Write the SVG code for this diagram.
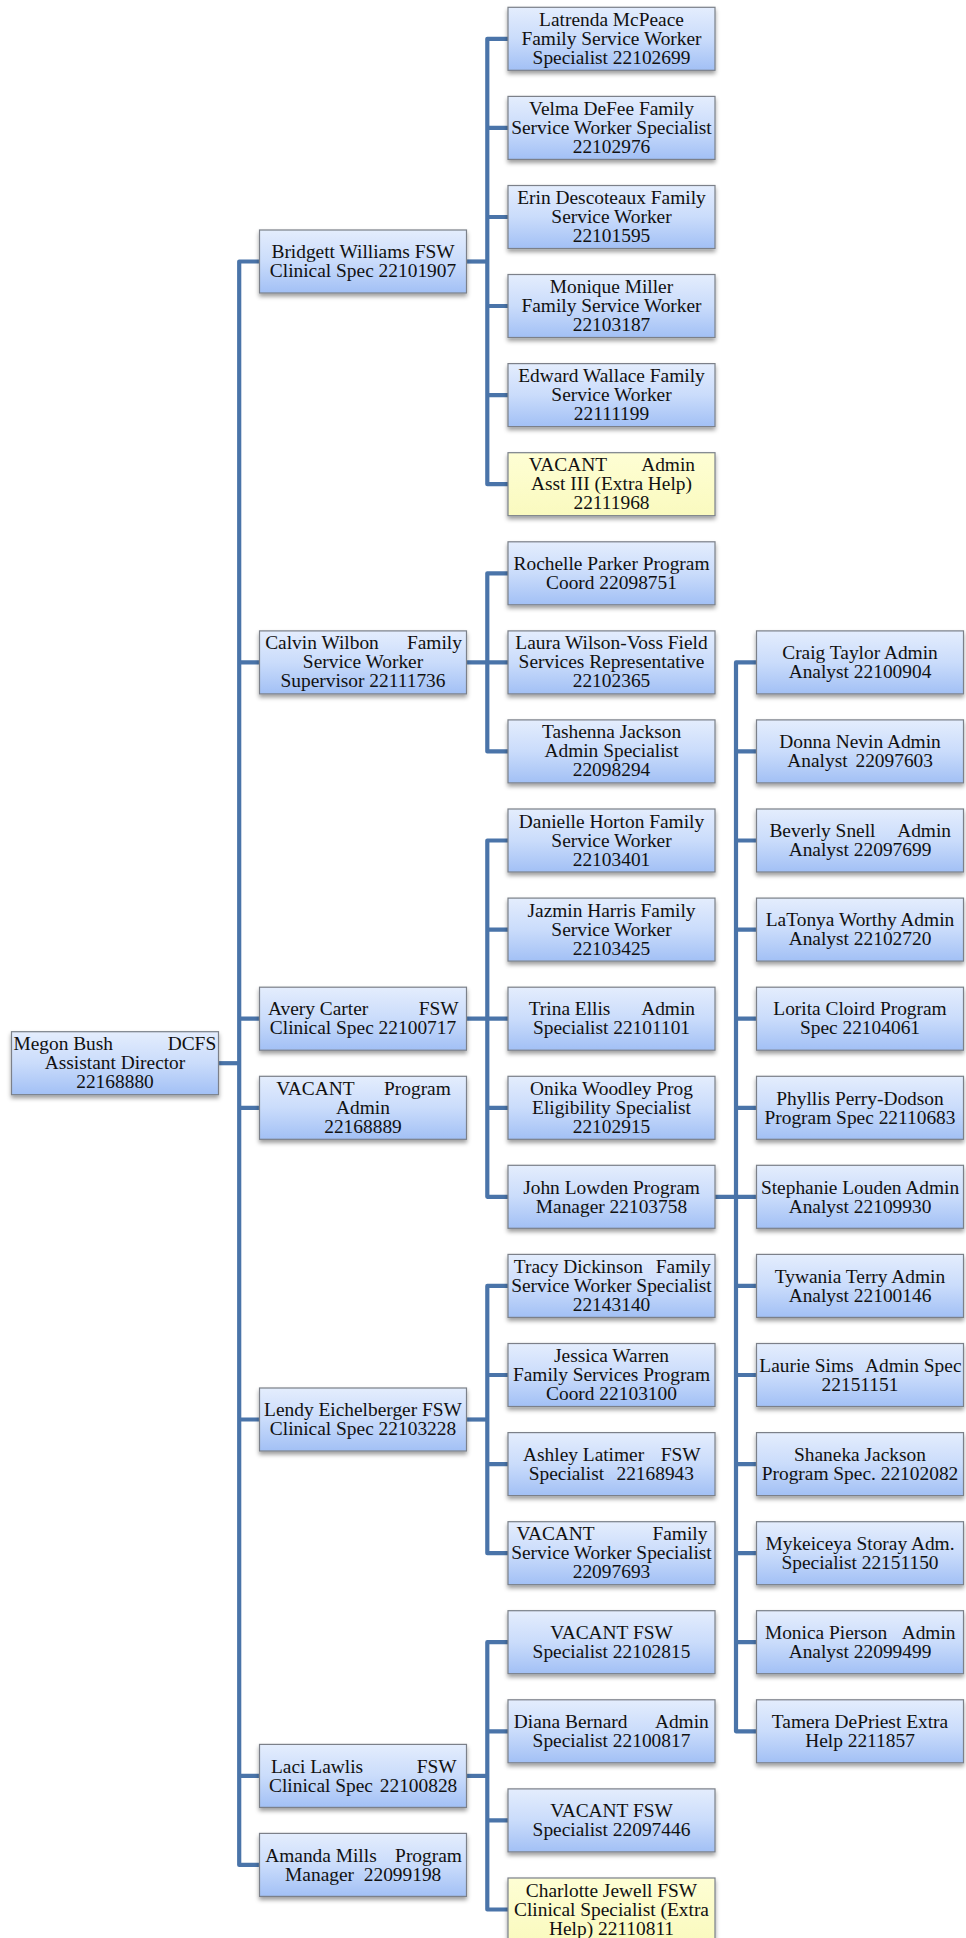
<svg xmlns="http://www.w3.org/2000/svg" width="966" height="1938" viewBox="0 0 966 1938">
<defs>
<linearGradient id="gb" x1="0" y1="0" x2="0" y2="1"><stop offset="0" stop-color="#e4edfd"/><stop offset="0.5" stop-color="#cadcfb"/><stop offset="1" stop-color="#a2c0f5"/></linearGradient>
<linearGradient id="gy" x1="0" y1="0" x2="0" y2="1"><stop offset="0" stop-color="#fefed4"/><stop offset="1" stop-color="#fafabf"/></linearGradient>
<filter id="sh" x="-10%" y="-10%" width="120%" height="145%"><feDropShadow dx="0" dy="3" stdDeviation="2" flood-color="#000" flood-opacity="0.38"/></filter>
</defs>
<style>
.n rect{fill:url(#gb);stroke:#7b8089;stroke-width:1.2;filter:url(#sh)}
.n.y rect{fill:url(#gy)}
text{font-family:"Liberation Serif","Times New Roman",serif;font-size:19.4px;fill:#111;text-anchor:middle}
tspan.l{text-anchor:start}
tspan.r{text-anchor:end}
#connectors path{fill:none;stroke:#4a74a9;stroke-width:4.2;stroke-linejoin:round;stroke-linecap:butt}
</style>
<rect width="966" height="1938" fill="#fff"/>
<g id="connectors">
<path d="M218.5,1063.2H239.2"/>
<path d="M259.5,261.5H239.2V1864.9H259.5"/>
<path d="M239.2,662.4H259.5M239.2,1018.7H259.5M239.2,1107.8H259.5M239.2,1419.5H259.5M239.2,1775.9H259.5"/>
<path d="M466.5,261.5H487.3"/>
<path d="M508,38.8H487.3V484.2H508"/>
<path d="M487.3,127.9H508M487.3,217H508M487.3,306H508M487.3,395.1H508"/>
<path d="M466.5,662.4H508"/>
<path d="M508,573.3H487.3V751.4H508"/>
<path d="M466.5,1018.7H508"/>
<path d="M508,840.5H487.3V1196.8H508"/>
<path d="M487.3,929.6H508M487.3,1107.8H508"/>
<path d="M466.5,1419.5H487.3"/>
<path d="M508,1285.9H487.3V1553.2H508"/>
<path d="M487.3,1375H508M487.3,1464.1H508"/>
<path d="M466.5,1775.9H487.3"/>
<path d="M508,1642.2H487.3V1909.5H508"/>
<path d="M487.3,1731.3H508M487.3,1820.4H508"/>
<path d="M715,1196.8H756.5"/>
<path d="M756.5,662.4H736V1731.3H756.5"/>
<path d="M736,751.4H756.5M736,840.5H756.5M736,929.6H756.5M736,1018.7H756.5M736,1107.8H756.5M736,1285.9H756.5M736,1375H756.5M736,1464.1H756.5M736,1553.2H756.5M736,1642.2H756.5"/>
</g>

<g id="megon-bush" class="n" transform="translate(11.5,1031.7)"><rect width="207" height="63"/><text><tspan class="l" x="1.9" y="18.5">Megon Bush</tspan><tspan class="r" x="204.7" y="18.5">DCFS</tspan><tspan x="103.5" y="37.5">Assistant Director</tspan><tspan x="103.5" y="56.5">22168880</tspan></text></g>

<g id="bridgett-williams" class="n" transform="translate(259.5,230)"><rect width="207" height="63"/><text><tspan x="103.5" y="28.3">Bridgett Williams FSW</tspan><tspan x="103.5" y="47.3">Clinical Spec 22101907</tspan></text></g>
<g id="calvin-wilbon" class="n" transform="translate(259.5,630.9)"><rect width="207" height="63"/><text><tspan class="l" x="5.7" y="18.5">Calvin Wilbon</tspan><tspan class="r" x="202.4" y="18.5">Family</tspan><tspan x="103.5" y="37.5">Service Worker</tspan><tspan x="103.5" y="56.5">Supervisor 22111736</tspan></text></g>
<g id="avery-carter" class="n" transform="translate(259.5,987.2)"><rect width="207" height="63"/><text><tspan class="l" x="8.4" y="28.3">Avery Carter</tspan><tspan class="r" x="199" y="28.3">FSW</tspan><tspan x="103.5" y="47.3">Clinical Spec 22100717</tspan></text></g>
<g id="vacant-program-admin" class="n" transform="translate(259.5,1076.3)"><rect width="207" height="63"/><text><tspan class="l" x="16.8" y="18.5">VACANT</tspan><tspan class="r" x="191.3" y="18.5">Program</tspan><tspan x="103.5" y="37.5">Admin</tspan><tspan x="103.5" y="56.5">22168889</tspan></text></g>
<g id="lendy-eichelberger" class="n" transform="translate(259.5,1388)"><rect width="207" height="63"/><text><tspan x="103.5" y="28.3">Lendy Eichelberger FSW</tspan><tspan x="103.5" y="47.3">Clinical Spec 22103228</tspan></text></g>
<g id="laci-lawlis" class="n" transform="translate(259.5,1744.4)"><rect width="207" height="63"/><text><tspan class="l" x="11.5" y="28.3">Laci Lawlis</tspan><tspan class="r" x="197.1" y="28.3">FSW</tspan><tspan class="l" x="9.5" y="47.3">Clinical Spec</tspan><tspan class="r" x="197.8" y="47.3">22100828</tspan></text></g>
<g id="amanda-mills" class="n" transform="translate(259.5,1833.4)"><rect width="207" height="63"/><text><tspan class="l" x="5.7" y="28.3">Amanda Mills</tspan><tspan class="r" x="202.4" y="28.3">Program</tspan><tspan class="l" x="25.6" y="47.3">Manager</tspan><tspan class="r" x="181.8" y="47.3">22099198</tspan></text></g>

<g id="latrenda-mcpeace" class="n" transform="translate(508,7.3)"><rect width="207" height="63"/><text><tspan x="103.5" y="18.5">Latrenda McPeace</tspan><tspan x="103.5" y="37.5">Family Service Worker</tspan><tspan x="103.5" y="56.5">Specialist 22102699</tspan></text></g>
<g id="velma-defee" class="n" transform="translate(508,96.4)"><rect width="207" height="63"/><text><tspan x="103.5" y="18.5">Velma DeFee Family</tspan><tspan x="103.5" y="37.5">Service Worker Specialist</tspan><tspan x="103.5" y="56.5">22102976</tspan></text></g>
<g id="erin-descoteaux" class="n" transform="translate(508,185.5)"><rect width="207" height="63"/><text><tspan x="103.5" y="18.5">Erin Descoteaux Family</tspan><tspan x="103.5" y="37.5">Service Worker</tspan><tspan x="103.5" y="56.5">22101595</tspan></text></g>
<g id="monique-miller" class="n" transform="translate(508,274.5)"><rect width="207" height="63"/><text><tspan x="103.5" y="18.5">Monique Miller</tspan><tspan x="103.5" y="37.5">Family Service Worker</tspan><tspan x="103.5" y="56.5">22103187</tspan></text></g>
<g id="edward-wallace" class="n" transform="translate(508,363.6)"><rect width="207" height="63"/><text><tspan x="103.5" y="18.5">Edward Wallace Family</tspan><tspan x="103.5" y="37.5">Service Worker</tspan><tspan x="103.5" y="56.5">22111199</tspan></text></g>
<g id="vacant-admin-asst" class="n y" transform="translate(508,452.7)"><rect width="207" height="63"/><text><tspan class="l" x="20.7" y="18.5">VACANT</tspan><tspan class="r" x="187" y="18.5">Admin</tspan><tspan x="103.5" y="37.5">Asst III (Extra Help)</tspan><tspan x="103.5" y="56.5">22111968</tspan></text></g>
<g id="rochelle-parker" class="n" transform="translate(508,541.8)"><rect width="207" height="63"/><text><tspan x="103.5" y="28.3">Rochelle Parker Program</tspan><tspan x="103.5" y="47.3">Coord 22098751</tspan></text></g>
<g id="laura-wilson-voss" class="n" transform="translate(508,630.9)"><rect width="207" height="63"/><text><tspan x="103.5" y="18.5">Laura Wilson-Voss Field</tspan><tspan x="103.5" y="37.5">Services Representative</tspan><tspan x="103.5" y="56.5">22102365</tspan></text></g>
<g id="tashenna-jackson" class="n" transform="translate(508,719.9)"><rect width="207" height="63"/><text><tspan x="103.5" y="18.5">Tashenna Jackson</tspan><tspan x="103.5" y="37.5">Admin Specialist</tspan><tspan x="103.5" y="56.5">22098294</tspan></text></g>
<g id="danielle-horton" class="n" transform="translate(508,809)"><rect width="207" height="63"/><text><tspan x="103.5" y="18.5">Danielle Horton Family</tspan><tspan x="103.5" y="37.5">Service Worker</tspan><tspan x="103.5" y="56.5">22103401</tspan></text></g>
<g id="jazmin-harris" class="n" transform="translate(508,898.1)"><rect width="207" height="63"/><text><tspan x="103.5" y="18.5">Jazmin Harris Family</tspan><tspan x="103.5" y="37.5">Service Worker</tspan><tspan x="103.5" y="56.5">22103425</tspan></text></g>
<g id="trina-ellis" class="n" transform="translate(508,987.2)"><rect width="207" height="63"/><text><tspan class="l" x="20.7" y="28.3">Trina Ellis</tspan><tspan class="r" x="187" y="28.3">Admin</tspan><tspan x="103.5" y="47.3">Specialist 22101101</tspan></text></g>
<g id="onika-woodley" class="n" transform="translate(508,1076.3)"><rect width="207" height="63"/><text><tspan x="103.5" y="18.5">Onika Woodley Prog</tspan><tspan x="103.5" y="37.5">Eligibility Specialist</tspan><tspan x="103.5" y="56.5">22102915</tspan></text></g>
<g id="john-lowden" class="n" transform="translate(508,1165.3)"><rect width="207" height="63"/><text><tspan x="103.5" y="28.3">John Lowden Program</tspan><tspan x="103.5" y="47.3">Manager 22103758</tspan></text></g>
<g id="tracy-dickinson" class="n" transform="translate(508,1254.4)"><rect width="207" height="63"/><text><tspan class="l" x="5.8" y="18.5">Tracy Dickinson</tspan><tspan class="r" x="202.7" y="18.5">Family</tspan><tspan x="103.5" y="37.5">Service Worker Specialist</tspan><tspan x="103.5" y="56.5">22143140</tspan></text></g>
<g id="jessica-warren" class="n" transform="translate(508,1343.5)"><rect width="207" height="63"/><text><tspan x="103.5" y="18.5">Jessica Warren</tspan><tspan x="103.5" y="37.5">Family Services Program</tspan><tspan x="103.5" y="56.5">Coord 22103100</tspan></text></g>
<g id="ashley-latimer" class="n" transform="translate(508,1432.6)"><rect width="207" height="63"/><text><tspan class="l" x="15" y="28.3">Ashley Latimer</tspan><tspan class="r" x="192.6" y="28.3">FSW</tspan><tspan class="l" x="20.7" y="47.3">Specialist</tspan><tspan class="r" x="186" y="47.3">22168943</tspan></text></g>
<g id="vacant-fsw-specialist-22097693" class="n" transform="translate(508,1521.7)"><rect width="207" height="63"/><text><tspan class="l" x="8.4" y="18.5">VACANT</tspan><tspan class="r" x="199.4" y="18.5">Family</tspan><tspan x="103.5" y="37.5">Service Worker Specialist</tspan><tspan x="103.5" y="56.5">22097693</tspan></text></g>
<g id="vacant-fsw-22102815" class="n" transform="translate(508,1610.7)"><rect width="207" height="63"/><text><tspan x="103.5" y="28.3">VACANT FSW</tspan><tspan x="103.5" y="47.3">Specialist 22102815</tspan></text></g>
<g id="diana-bernard" class="n" transform="translate(508,1699.8)"><rect width="207" height="63"/><text><tspan class="l" x="5.8" y="28.3">Diana Bernard</tspan><tspan class="r" x="200.8" y="28.3">Admin</tspan><tspan x="103.5" y="47.3">Specialist 22100817</tspan></text></g>
<g id="vacant-fsw-22097446" class="n" transform="translate(508,1788.9)"><rect width="207" height="63"/><text><tspan x="103.5" y="28.3">VACANT FSW</tspan><tspan x="103.5" y="47.3">Specialist 22097446</tspan></text></g>
<g id="charlotte-jewell" class="n y" transform="translate(508,1878)"><rect width="207" height="63"/><text><tspan x="103.5" y="18.5">Charlotte Jewell FSW</tspan><tspan x="103.5" y="37.5">Clinical Specialist (Extra</tspan><tspan x="103.5" y="56.5">Help) 22110811</tspan></text></g>

<g id="craig-taylor" class="n" transform="translate(756.5,630.9)"><rect width="207" height="63"/><text><tspan x="103.5" y="28.3">Craig Taylor Admin</tspan><tspan x="103.5" y="47.3">Analyst 22100904</tspan></text></g>
<g id="donna-nevin" class="n" transform="translate(756.5,719.9)"><rect width="207" height="63"/><text><tspan x="103.5" y="28.3">Donna Nevin Admin</tspan><tspan class="l" x="30.8" y="47.3">Analyst</tspan><tspan class="r" x="176.5" y="47.3">22097603</tspan></text></g>
<g id="beverly-snell" class="n" transform="translate(756.5,809)"><rect width="207" height="63"/><text><tspan class="l" x="12.9" y="28.3">Beverly Snell</tspan><tspan class="r" x="194.5" y="28.3">Admin</tspan><tspan x="103.5" y="47.3">Analyst 22097699</tspan></text></g>
<g id="latonya-worthy" class="n" transform="translate(756.5,898.1)"><rect width="207" height="63"/><text><tspan x="103.5" y="28.3">LaTonya Worthy Admin</tspan><tspan x="103.5" y="47.3">Analyst 22102720</tspan></text></g>
<g id="lorita-cloird" class="n" transform="translate(756.5,987.2)"><rect width="207" height="63"/><text><tspan x="103.5" y="28.3">Lorita Cloird Program</tspan><tspan x="103.5" y="47.3">Spec 22104061</tspan></text></g>
<g id="phyllis-perry-dodson" class="n" transform="translate(756.5,1076.3)"><rect width="207" height="63"/><text><tspan x="103.5" y="28.3">Phyllis Perry-Dodson</tspan><tspan x="103.5" y="47.3">Program Spec 22110683</tspan></text></g>
<g id="stephanie-louden" class="n" transform="translate(756.5,1165.3)"><rect width="207" height="63"/><text><tspan x="103.5" y="28.3">Stephanie Louden Admin</tspan><tspan x="103.5" y="47.3">Analyst 22109930</tspan></text></g>
<g id="tywania-terry" class="n" transform="translate(756.5,1254.4)"><rect width="207" height="63"/><text><tspan x="103.5" y="28.3">Tywania Terry Admin</tspan><tspan x="103.5" y="47.3">Analyst 22100146</tspan></text></g>
<g id="laurie-sims" class="n" transform="translate(756.5,1343.5)"><rect width="207" height="63"/><text><tspan class="l" x="2.8" y="28.3">Laurie Sims</tspan><tspan class="r" x="205" y="28.3">Admin Spec</tspan><tspan x="103.5" y="47.3">22151151</tspan></text></g>
<g id="shaneka-jackson" class="n" transform="translate(756.5,1432.6)"><rect width="207" height="63"/><text><tspan x="103.5" y="28.3">Shaneka Jackson</tspan><tspan x="103.5" y="47.3">Program Spec. 22102082</tspan></text></g>
<g id="mykeiceya-storay" class="n" transform="translate(756.5,1521.7)"><rect width="207" height="63"/><text><tspan x="103.5" y="28.3">Mykeiceya Storay Adm.</tspan><tspan x="103.5" y="47.3">Specialist 22151150</tspan></text></g>
<g id="monica-pierson" class="n" transform="translate(756.5,1610.7)"><rect width="207" height="63"/><text><tspan class="l" x="8.4" y="28.3">Monica Pierson</tspan><tspan class="r" x="199" y="28.3">Admin</tspan><tspan x="103.5" y="47.3">Analyst 22099499</tspan></text></g>
<g id="tamera-depriest" class="n" transform="translate(756.5,1699.8)"><rect width="207" height="63"/><text><tspan x="103.5" y="28.3">Tamera DePriest Extra</tspan><tspan x="103.5" y="47.3">Help 2211857</tspan></text></g>
</svg>
